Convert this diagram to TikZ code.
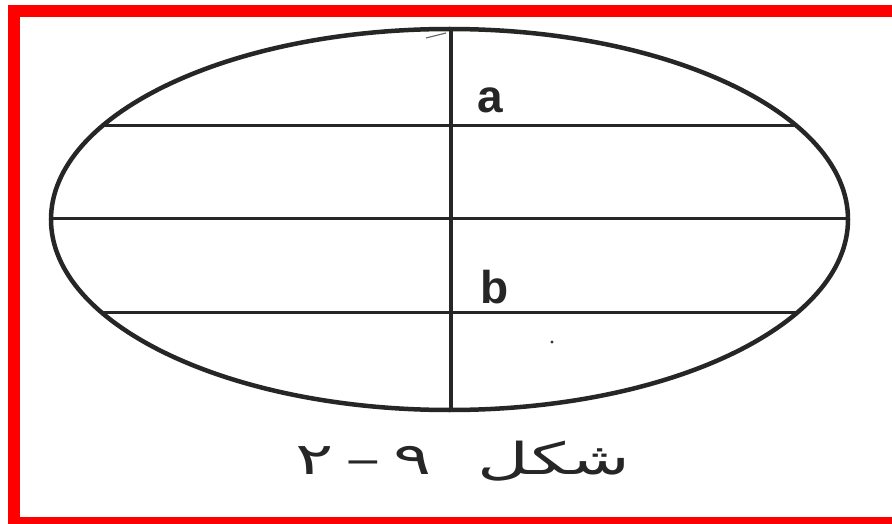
\documentclass[tikz,border=0pt]{standalone}
\usepackage{fontspec}
\setmainfont{Liberation Sans}
\newfontfamily\arabicfont[Script=Arabic]{DejaVu Sans}
\TeXXeTstate=1
\begin{document}
\begin{tikzpicture}[x=1pt,y=-1pt,
  outline/.style={line width=4.5pt,black!85},
  chord/.style={line width=3pt,black!85},
  axisline/.style={line width=4pt,black!85},
  letter/.style={font=\fontsize{46}{46}\selectfont\bfseries,text=black!85,inner sep=0pt},
  caption/.style={font=\arabicfont\fontsize{44}{44}\selectfont,text=black!85,inner sep=0pt},
  frame/.style={fill=red,draw=none}]
\useasboundingbox (0,0) rectangle (892,524);
\fill[white] (0,0) rectangle (892,524);
% red frame
\fill[frame] (8,5) rectangle (20,524);
\fill[frame] (8,5) rectangle (892,17);
\fill[frame] (8,517) rectangle (892,524);
% ellipse
\coordinate (c) at (449.5,219.5);
\draw[outline] (c) ellipse [x radius=398.5, y radius=190.5];
% chords
\coordinate (t1) at (102.3,126);
\coordinate (t2) at (796.7,126);
\coordinate (m1) at (51,218);
\coordinate (m2) at (848,218);
\coordinate (b1) at (101.1,312);
\coordinate (b2) at (797.9,312);
\draw[chord] (t1) -- (t2);
\draw[chord] (m1) -- (m2);
\draw[chord] (b1) -- (b2);
% vertical line
\coordinate (vt) at (451,30);
\coordinate (vb) at (451,410);
\draw[axisline] (vt) -- (vb);
\coordinate (k1) at (426,38);
\coordinate (k2) at (446,33);
\draw[line width=1.2pt,black!60] (k1) -- (k2);
% labels
\node[letter,anchor=base west] (la) at (477,113) {a};
\node[letter,anchor=base west] (lb) at (480,303) {b};
\fill[black!80] (552,342) circle (1.6);
% caption
\node[caption,anchor=base] (cap) at (463,474) {\scalebox{1.62}[1]{\beginR شکل\ \ ۹\,–\,۲\endR}};
\end{tikzpicture}
\end{document}
